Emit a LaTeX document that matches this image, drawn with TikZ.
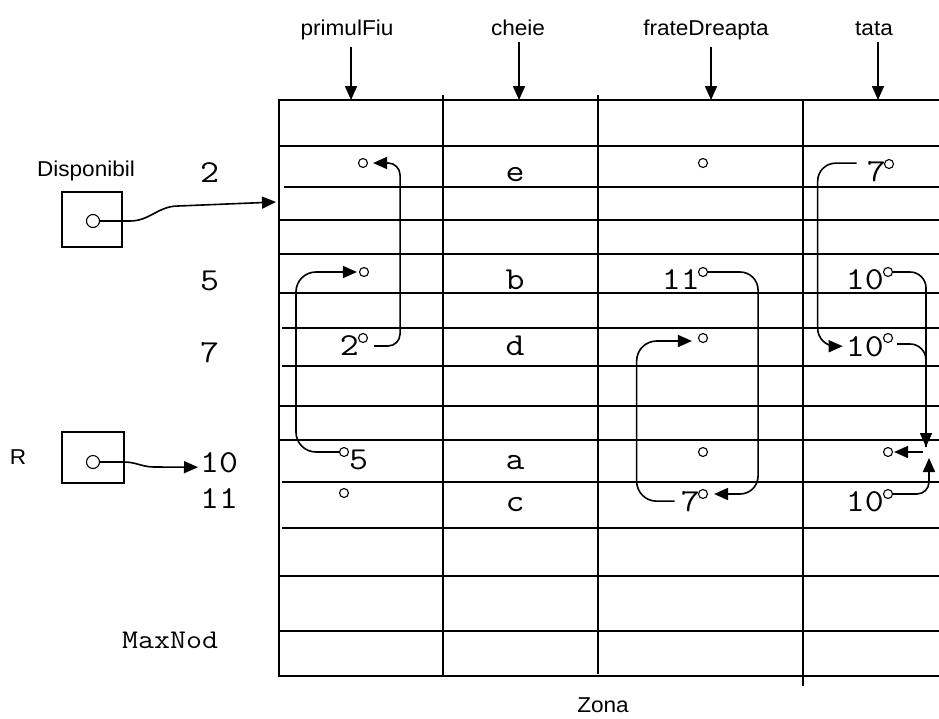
\documentclass[tikz,border=0pt]{standalone}
\usepackage{fontspec}
\usetikzlibrary{arrows.meta}
\newfontfamily\labfont{Liberation Sans}[FakeStretch=1.05]
\newfontfamily\codefont{Latin Modern Mono}[FakeStretch=1.15]

\begin{document}
\begin{tikzpicture}[x=1pt,y=-1pt,
  tabline/.style={line width=1.8pt},
  wire/.style={line width=1.6pt, rounded corners=16pt},
  link/.style={wire, -{Triangle[length=14pt,width=12pt]}},
  dot/.style={circle, draw, line width=1.1pt, minimum size=9pt, inner sep=0pt},
  cell/.style={font={\codefont\fontsize{32}{34}\selectfont}, inner sep=0pt},
  lab/.style={font={\labfont\fontsize{21.5}{25}\selectfont}, inner sep=0pt},
  ptrbox/.style={draw, line width=1.8pt, inner sep=0pt}]
\useasboundingbox (0,0) rectangle (939,718);

% the memory table (Zona)
\draw[tabline] (939,100) -- (279,100) -- (279,676) -- (939,676);
\foreach \y in {146,220,254,293,406,440,576,631}
  \draw[tabline] (279,\y) -- (939,\y);
\draw[tabline] (284,187) -- (939,187);
\foreach \y in {328,366,482,528}
  \draw[tabline] (282,\y) -- (939,\y);
\draw[tabline] (443,95) -- (443,675);
\draw[tabline] (598,95) -- (598,674);
\draw[tabline] (803,100) -- (803,686);

% column headers
\node[lab, anchor=base] (hpf) at (347,35) {primulFiu};
\node[lab, anchor=base] (hch) at (518,35) {cheie};
\node[lab, anchor=base] (hfd) at (706,35) {frateDreapta};
\node[lab, anchor=base] (hta) at (874,35) {tata};
\coordinate (tpf) at (351,100);
\coordinate (tch) at (519,100);
\coordinate (tfd) at (711,100);
\coordinate (tta) at (878,100);
\draw[link, shorten <=7pt] (hpf.south -| tpf) -- (tpf);
\draw[link, shorten <=7pt] (hch.south -| tch) -- (tch);
\draw[link, shorten <=7pt] (hfd.south -| tfd) -- (tfd);
\draw[link, shorten <=7pt] (hta.south -| tta) -- (tta);

\node[lab, anchor=base] (zona) at (603,712) {Zona};

% row indices
\node[cell, anchor=base west] (r2) at (200,182) {2};
\node[cell, anchor=base west] (r5) at (200,290) {5};
\node[cell, anchor=base west] (r7) at (200,362) {7};
\node[cell, anchor=base west] (r10) at (200,472) {10};
\node[cell, anchor=base west] (r11) at (200,508) {11};
\node[cell, anchor=base west, font={\codefont\fontsize{27}{30}\selectfont}] (maxnod) at (122,648) {MaxNod};

% pointer variables
\node[lab, anchor=base] (ldisp) at (86,176) {Disponibil};
\node[ptrbox, minimum width=60pt, minimum height=55pt] (bdisp) at (92,219.5) {};
\node[dot, minimum size=13pt] (cdisp) at (93,221) {};
\coordinate (dtip) at (276,202);
\draw[link, sharp corners] (cdisp.east) -- ++(30,0) to[out=0,in=180] ++(48,-15) -- (dtip);

\node[lab, anchor=base] (lr) at (18,464) {R};
\node[ptrbox, minimum width=62pt, minimum height=51pt] (br) at (93,457.5) {};
\node[dot, minimum size=13pt] (cr) at (93,462) {};
\draw[link, sharp corners, shorten >=2pt] (cr.east) -- ++(24,0) to[out=0,in=180] ++(30,5) -- ([yshift=-5pt]r10.west);

% cheie column
\node[cell, anchor=base] (ke) at (515,181) {e};
\node[cell, anchor=base] (kb) at (515,289) {b};
\node[cell, anchor=base] (kd) at (515,355) {d};
\node[cell, anchor=base] (ka) at (515,469) {a};
\node[cell, anchor=base] (kc) at (515,511) {c};

% link fields
\node[dot] (p2) at (363,163) {};
\node[dot] (f2) at (703,163) {};
\node[dot] (t2) at (889,164) {};
\node[cell, anchor=base east] (nt2) at (886,181) {7};

\node[dot] (p5) at (364,272) {};
\node[dot] (f5) at (703,272) {};
\node[cell, anchor=base east] (nf5) at (700,289) {11};
\node[dot] (t5) at (888,272) {};
\node[cell, anchor=base east] (nt5) at (884,289) {10};

\node[dot] (p7) at (363,338) {};
\node[cell, anchor=base east] (np7) at (359,355) {2};
\node[dot] (f7) at (703,338) {};
\node[dot] (t7) at (888,338) {};
\node[cell, anchor=base east] (nt7) at (884,356) {10};

\node[dot] (p10) at (344,452) {};
\node[cell, anchor=base west] (np10) at (349,469) {5};
\node[dot] (f10) at (703,452) {};
\node[dot] (t10) at (888,452) {};

\node[dot] (p11) at (344,493) {};
\node[dot] (f11) at (703,494) {};
\node[cell, anchor=base east] (nf11) at (700,511) {7};
\node[dot] (t11) at (888,494) {};
\node[cell, anchor=base east] (nt11) at (884,511) {10};

% primulFiu links
\draw[link, rounded corners=12pt] ([shift={(6pt,-8pt)}]p7.east) -- ++(26,0) |- ([xshift=5pt]p2.east);
\draw[link, rounded corners=20pt] (p10.west) -- ++(-43,0) |- ([xshift=-2pt]p5.west);

% frateDreapta links
\draw[link, rounded corners=18pt] (f5.east) -- ++(50,0) |- ([xshift=6pt]f11.east);
\draw[link, rounded corners=20pt] ([xshift=-6pt]nf11.west) -- ++(-38,0) |- ([shift={(-6pt,-3pt)}]f7.west);

% tata links
\coordinate (jt) at (926,452);
\draw[link, rounded corners=18pt] ([shift={(-10pt,8pt)}]nt2.west) -- ++(-39,0) |- ([xshift=-3pt]nt7.west);
\draw[link] (t5.east) -| ([yshift=5pt]jt);
\draw[wire] ([shift={(4pt,-6pt)}]t7.east) -| ([yshift=5pt]jt);
\draw[link, rounded corners=12pt] (t11.east) -| ([shift={(3pt,-6pt)}]jt);
\draw[link] ([xshift=-3pt]jt) -- ([xshift=1pt]t10.east);
\end{tikzpicture}
\end{document}
